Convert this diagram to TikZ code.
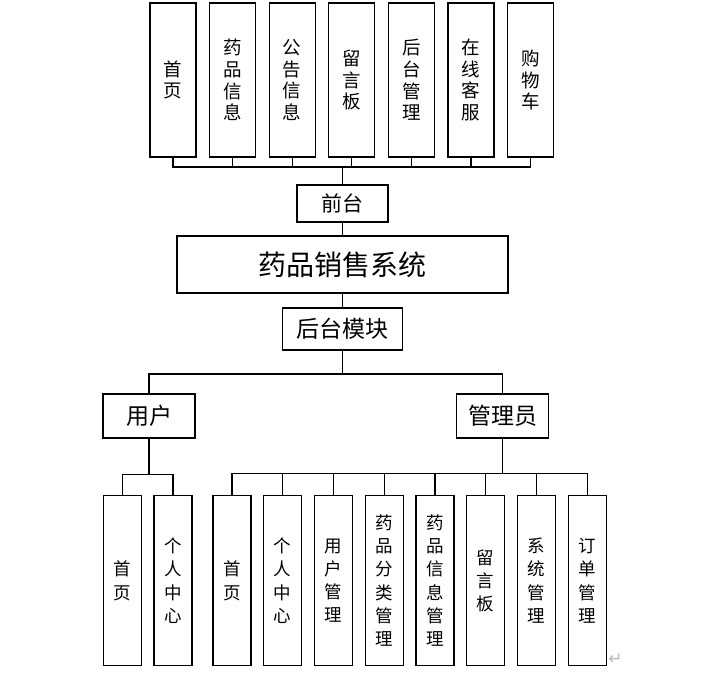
\documentclass[tikz,border=0pt]{standalone}
\usepackage{fontspec}
\setmainfont{Noto Sans CJK SC}
\newfontfamily\markfont{DejaVu Sans}
\begin{document}
\begin{tikzpicture}[x=1pt, y=-1pt,
  box/.style={draw, line width=1.2pt, inner sep=0pt, align=center},
  tallbox/.style={box, minimum width=46pt, minimum height=154pt, font=\fontsize{18.5}{21.7}\selectfont},
  lowbox/.style={box, minimum width=38pt, minimum height=170pt, font=\fontsize{17.5}{23.3}\selectfont},
  midbox/.style={box, minimum width=92pt, minimum height=44pt, font=\fontsize{23}{26}\selectfont},
  link/.style={line width=1.1pt},
  trunk/.style={line width=1.8pt}]
\useasboundingbox (0,0) rectangle (710,678);
% --- 前台: 上排模块 ---
\foreach \i/\x/\name in {1/173/首\\页, 2/232.6/药\\品\\信\\息, 3/292.2/公\\告\\信\\息,
  4/351.8/留\\言\\板, 5/411.4/后\\台\\管\\理, 6/471/在\\线\\客\\服, 7/530.6/购\\物\\车}
  \node[tallbox] (t\i) at (\x,80) {\name};
\coordinate (fbus) at (342.5,167);
\foreach \i in {1,...,7} \draw[link] (t\i.south) |- (fbus);
\node[box, minimum width=91pt, minimum height=37pt, font=\fontsize{21}{24}\selectfont] (front) at (342.5,203.5) {前台};
\draw[trunk] (fbus) -- (front.north);
% --- 系统 ---
\node[box, minimum width=331pt, minimum height=57pt, font=\fontsize{28}{30}\selectfont] (sys) at (342.5,264.5) {药品销售系统};
\draw[link] (front.south) -- (sys.north);
\node[midbox, minimum width=120pt, minimum height=42pt] (back) at (342.5,329) {后台模块};
\draw[link] (sys.south) -- (back.north);
% --- 后台: 用户 / 管理员 ---
\coordinate (bbus) at (342.5,374);
\draw[link] (back.south) -- (bbus);
\node[midbox] (user) at (149,416) {用户};
\node[midbox] (admin) at (502.5,416) {管理员};
\draw[link] (user.north) |- (bbus) -| (admin.north);
% 用户
\coordinate (ubus) at (149,474.5);
\draw[link] (user.south) -- (ubus);
\foreach \i/\x/\name in {1/122.5/首\\页, 2/173/个\\人\\中\\心}{
  \node[lowbox] (u\i) at (\x,580.7) {\name};
  \draw[link] (u\i.north) |- (ubus);
}
% 管理员
\coordinate (abus) at (502.5,473.5);
\draw[trunk] (admin.south) -- (abus);
\foreach \i/\name in {1/首\\页, 2/个\\人\\中\\心, 3/用\\户\\管\\理, 4/药\\品\\分\\类\\管\\理,
  5/药\\品\\信\\息\\管\\理, 6/留\\言\\板, 7/系\\统\\管\\理, 8/订\\单\\管\\理}{
  \node[lowbox] (a\i) at ({232+(\i-1)*50.74},580.7) {\name};
  \draw[link] (a\i.north) |- (abus);
}
\node[inner sep=0pt, text=gray!55, font=\markfont\fontsize{17}{17}\selectfont] (mark) at (615.5,659.5) {↵};
\end{tikzpicture}
\end{document}
